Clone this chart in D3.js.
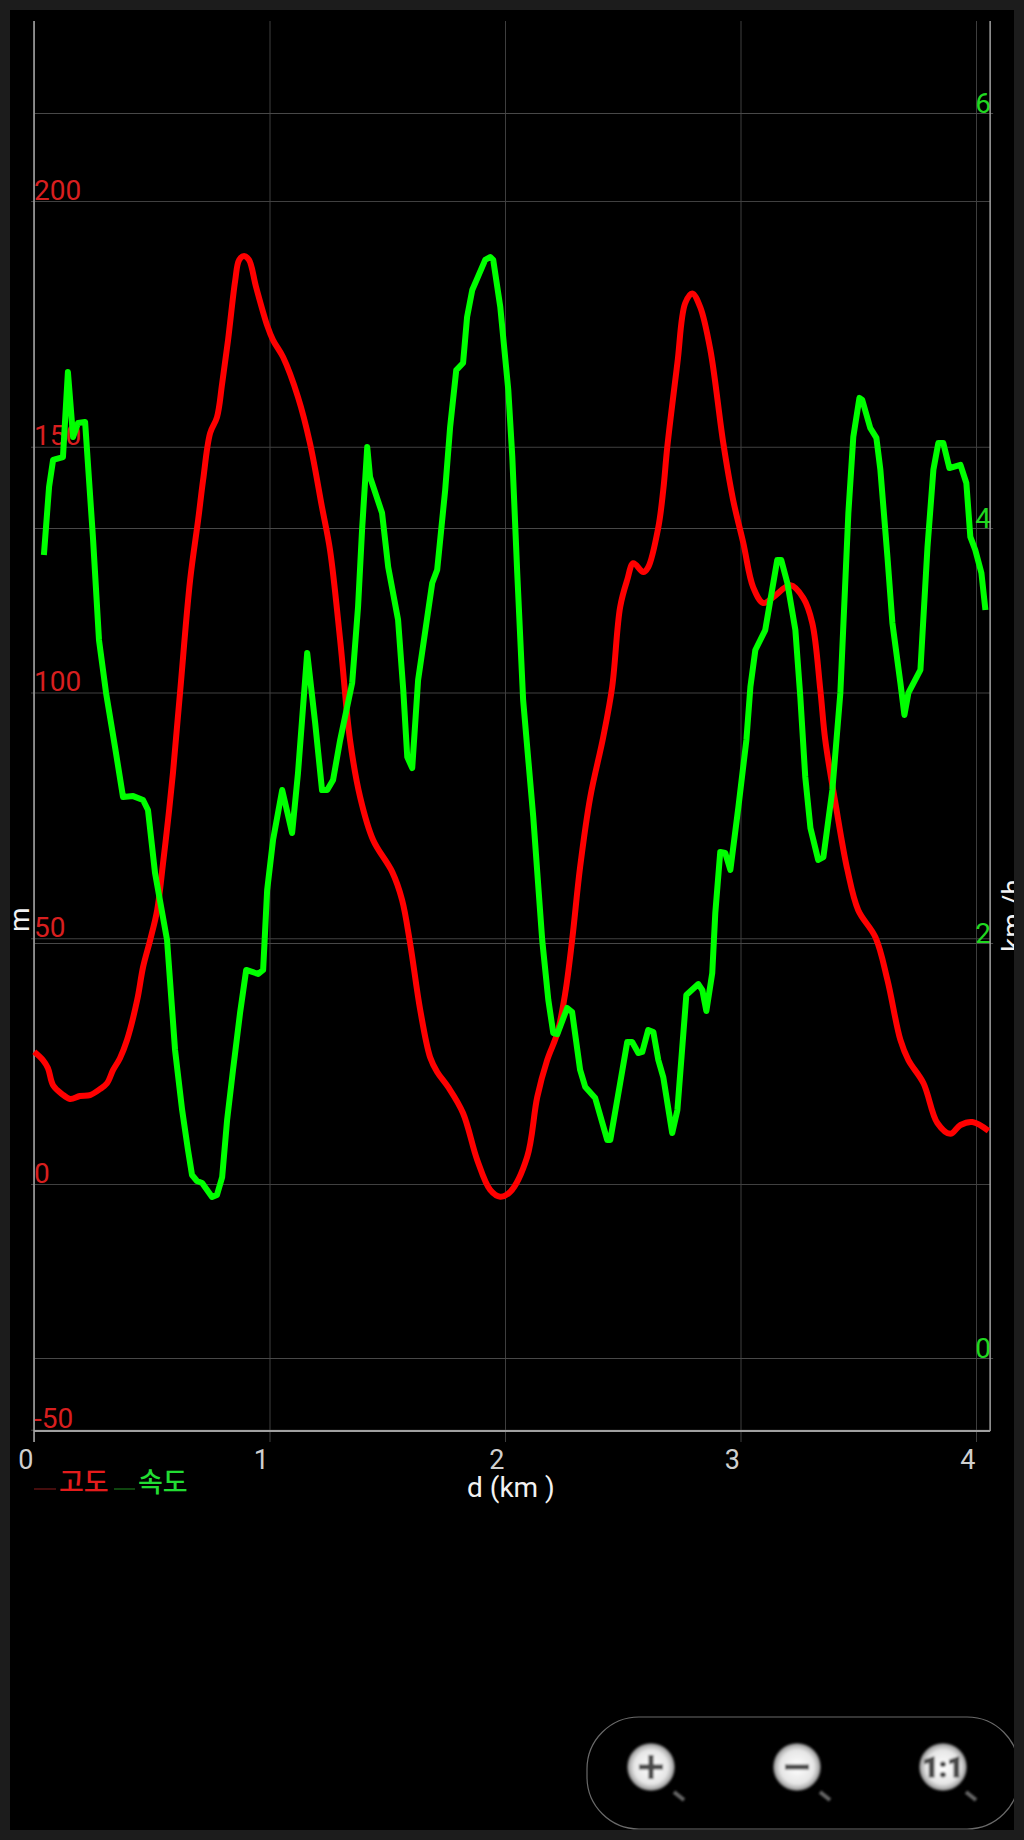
<!DOCTYPE html>
<html>
<head>
<meta charset="utf-8">
<script src="https://cdnjs.cloudflare.com/ajax/libs/d3/7.8.5/d3.min.js"></script>
<style>
html,body{margin:0;padding:0;background:#000;overflow:hidden}
svg{display:block}
text{font-family:Roboto,"Noto Sans",sans-serif}
.kr{font-family:"Noto Sans CJK KR",sans-serif;font-weight:500}
</style>
</head>
<body>
<svg id="c" width="1024" height="1840"></svg>
<script>
const elevationDistance=[.001,.038,.059,.081,.119,.153,.195,.238,.280,.310,.336,.365,.395,.438,.463,.493,.523,.548,.569,.590,.620,.663,.697,.718,.748,.777,.799,.824,.854,.871,.892,.913,.943,.990,1.015,1.058,1.121,1.172,1.223,1.257,1.300,1.342,1.385,1.440,1.521,1.563,1.597,1.640,1.682,1.712,1.759,1.822,1.882,1.937,1.980,2.022,2.094,2.137,2.179,2.222,2.256,2.285,2.319,2.362,2.417,2.455,2.489,2.519,2.545,2.587,2.608,2.651,2.672,2.689,2.732,2.765,2.795,2.829,2.872,2.927,2.969,3.012,3.054,3.097,3.139,3.212,3.267,3.305,3.339,3.360,3.403,3.454,3.500,3.573,3.624,3.679,3.713,3.777,3.836,3.891,3.934,3.985,4.053];
const elevation=[26.9,25.2,23.6,20.1,18.3,17.3,17.9,18.1,19.3,20.5,23.2,25.6,29.3,37.4,44.1,49.6,55.7,65.3,74.0,83.6,99.9,122.9,135.1,143.2,152.8,156.0,162.9,171.7,183.7,188.0,188.8,188.0,182.5,174.7,171.7,168.2,160.1,150.7,137.7,129.0,110.7,90.3,78.7,70.0,63.5,57.8,49.0,35.4,25.8,22.8,19.7,14.4,4.9,-1.2,-2.6,-1.6,5.5,17.7,25.2,30.7,38.9,49.6,64.5,78.7,90.9,101.1,117.4,122.9,126.3,124.5,125.5,133.6,141.2,149.9,167.0,179.2,181.2,178.4,169.7,150.7,139.1,130.4,121.4,118.2,119.4,121.8,119.2,114.1,100.5,90.3,77.5,63.9,55.7,50.2,41.5,29.3,25.2,20.5,12.4,10.2,12.0,12.6,10.8];
const speedDistance=[.042,.064,.081,.123,.144,.166,.187,.217,.251,.276,.306,.344,.378,.421,.463,.484,.514,.565,.599,.629,.654,.671,.692,.714,.756,.777,.799,.820,.845,.875,.901,.952,.973,.990,1.015,1.054,1.096,1.121,1.160,1.194,1.223,1.245,1.270,1.300,1.351,1.376,1.393,1.415,1.427,1.478,1.504,1.546,1.568,1.585,1.606,1.631,1.691,1.712,1.746,1.767,1.793,1.822,1.839,1.861,1.916,1.937,1.950,1.980,2.014,2.031,2.052,2.077,2.120,2.158,2.184,2.205,2.222,2.264,2.285,2.319,2.341,2.383,2.434,2.447,2.489,2.519,2.540,2.566,2.583,2.608,2.630,2.651,2.672,2.710,2.732,2.770,2.821,2.838,2.855,2.880,2.893,2.914,2.935,2.957,2.991,3.025,3.042,3.063,3.105,3.156,3.173,3.199,3.233,3.254,3.275,3.297,3.330,3.352,3.390,3.424,3.458,3.479,3.505,3.517,3.551,3.577,3.594,3.624,3.645,3.679,3.696,3.713,3.764,3.794,3.819,3.840,3.861,3.887,3.934,3.959,3.976,3.997,4.023,4.040];
const speed=[3.870,4.198,4.328,4.342,4.752,4.439,4.506,4.511,3.942,3.460,3.205,2.945,2.704,2.708,2.689,2.641,2.337,2.014,1.484,1.195,1.002,.882,.853,.843,.776,.786,.872,1.147,1.388,1.663,1.870,1.851,1.870,2.255,2.496,2.737,2.530,2.819,3.398,3.060,2.737,2.737,2.786,2.978,3.253,3.619,3.990,4.390,4.246,4.072,3.812,3.557,3.219,2.896,2.843,3.267,3.735,3.798,4.183,4.487,4.761,4.795,5.017,5.147,5.292,5.306,5.292,5.065,4.665,4.342,3.783,3.171,2.607,2.014,1.725,1.566,1.561,1.687,1.667,1.388,1.306,1.253,1.051,1.051,1.325,1.523,1.523,1.470,1.475,1.581,1.571,1.436,1.354,1.084,1.195,1.749,1.802,1.773,1.672,1.855,2.145,2.439,2.434,2.352,2.655,2.978,3.234,3.412,3.508,3.846,3.846,3.735,3.508,3.186,2.800,2.554,2.400,2.414,2.737,3.205,4.072,4.439,4.627,4.617,4.482,4.434,4.280,3.860,3.542,3.253,3.099,3.205,3.316,3.908,4.280,4.410,4.410,4.289,4.304,4.217,3.957,3.894,3.783,3.605];
const distanceTicks=[0,1,2,3,4];
const elevationTicks=[-50,0,50,100,150,200];
const speedTicks=[0,2,4,6];
const xMax=4.06;
const xLabel="d (km )", leftLabel="m", rightLabel="km /h";
const legendNames=["고도","속도"];

const svg=d3.select("#c");
const x=d3.scaleLinear().domain([0,4]).range([34,976]);
const yL=d3.scaleLinear().domain([0,200]).range([1184,201]);
const yR=d3.scaleLinear().domain([0,6]).range([1358,113]);
const plotTop=21,plotBottom=1431,plotLeft=x(0),plotRight=x(xMax);
const plainInt=d=>String(d);

const clean=g=>g.select(".domain").remove();
const gx=svg.append("g").attr("transform",`translate(0,${plotBottom})`)
 .call(d3.axisBottom(x).tickValues(distanceTicks).tickFormat(plainInt).tickSize(0)).call(clean);
gx.selectAll(".tick line").attr("y1",plotTop-plotBottom).attr("y2",11).attr("stroke","#3e3e3e").attr("stroke-width",1);
gx.selectAll(".tick text").attr("y",38).attr("dy",0).attr("x",-1).attr("text-anchor","end")
 .attr("font-size",27).attr("fill","#cfcfcf").style("font-family","Roboto");

const gl=svg.append("g").attr("transform",`translate(${plotLeft},0)`)
 .call(d3.axisLeft(yL).tickValues(elevationTicks).tickFormat(plainInt).tickSize(0)).call(clean);
gl.selectAll(".tick line").attr("x1",-3).attr("x2",plotRight-plotLeft).attr("stroke","#404040").attr("stroke-width",1);
gl.selectAll(".tick text").attr("x",0).attr("y",-2).attr("dy",0).attr("text-anchor","start")
 .attr("font-size",28).attr("fill","#d81f1f").style("font-family","Roboto");

const gr=svg.append("g").attr("transform",`translate(${plotRight},0)`)
 .call(d3.axisRight(yR).tickValues(speedTicks).tickFormat(plainInt).tickSize(0)).call(clean);
gr.selectAll(".tick line").attr("x1",plotLeft-plotRight).attr("x2",3).attr("stroke","#484848").attr("stroke-width",1);
gr.selectAll(".tick text").attr("x",-15).attr("y",-1).attr("dy",0).attr("text-anchor","start")
 .attr("font-size",28).attr("fill","#20d820").style("font-family","Roboto");

svg.append("line").attr("x1",plotLeft).attr("x2",plotLeft).attr("y1",plotTop).attr("y2",1442).attr("stroke","#a8a8a8").attr("stroke-width",1.5);
svg.append("line").attr("x1",plotRight).attr("x2",plotRight).attr("y1",plotTop).attr("y2",plotBottom).attr("stroke","#a0a0a0").attr("stroke-width",1.5);
svg.append("line").attr("x1",plotLeft).attr("x2",plotRight).attr("y1",plotBottom).attr("y2",plotBottom).attr("stroke","#a0a0a0").attr("stroke-width",2);

const drawLine=(xs,ys,yScale,color,curve)=>svg.append("path")
 .datum(xs.map((d,i)=>[d,ys[i]]))
 .attr("fill","none").attr("stroke",color).attr("stroke-width",6).attr("stroke-linejoin","round")
 .attr("d",d3.line().curve(curve).x(d=>x(d[0])).y(d=>yScale(d[1])));
drawLine(elevationDistance,elevation,yL,"#ff0000",d3.curveCatmullRom.alpha(0.5));
drawLine(speedDistance,speed,yR,"#00ff00",d3.curveLinear);

svg.append("text").attr("x",511).attr("y",1497).attr("text-anchor","middle").attr("font-size",28).attr("fill","#f2f2f2").text(xLabel);
svg.append("text").attr("transform","translate(29,932) rotate(-90)").attr("font-size",28).attr("fill","#f2f2f2").text(leftLabel);
svg.append("text").attr("transform","translate(1022,952) rotate(-90)").attr("font-size",28).attr("fill","#f2f2f2").text(rightLabel);

svg.append("line").attr("x1",34).attr("x2",56).attr("y1",1489).attr("y2",1489).attr("stroke","#5c1212").attr("stroke-width",1.5);
svg.append("text").attr("class","kr").attr("x",59).attr("y",1492).attr("font-size",27).attr("fill","#e51c1c").text(legendNames[0]);
svg.append("line").attr("x1",114).attr("x2",135).attr("y1",1489).attr("y2",1489).attr("stroke","#145c14").attr("stroke-width",1.5);
svg.append("text").attr("class","kr").attr("x",138).attr("y",1492).attr("font-size",27).attr("fill","#22dd33").text(legendNames[1]);

// zoom control panel
const defs=svg.append("defs");
const grad=defs.append("radialGradient").attr("id","knob");
grad.append("stop").attr("offset","0%").attr("stop-color","#ffffff");
grad.append("stop").attr("offset","70%").attr("stop-color","#e6e6e6");
grad.append("stop").attr("offset","90%").attr("stop-color","#b0b0b0");
grad.append("stop").attr("offset","100%").attr("stop-color","#555555");
defs.append("filter").attr("id","soft").append("feGaussianBlur").attr("stdDeviation",1);
svg.append("rect").attr("x",587).attr("y",1717).attr("width",432).attr("height",112).attr("rx",52).attr("fill","none").attr("stroke","#6a6a6a").attr("stroke-width",1.2);
const knobs=svg.append("g").attr("filter","url(#soft)");
[651,797,943].forEach((cx,i)=>{
 knobs.append("line").attr("x1",cx+23).attr("y1",1792).attr("x2",cx+33).attr("y2",1800).attr("stroke","#666").attr("stroke-width",4);
 knobs.append("circle").attr("cx",cx).attr("cy",1767).attr("r",24).attr("fill","url(#knob)");
 if(i<2) knobs.append("rect").attr("x",cx-12).attr("y",1764.5).attr("width",24).attr("height",5).attr("fill","#484848");
 if(i==0) knobs.append("rect").attr("x",cx-2.5).attr("y",1755).attr("width",5).attr("height",24).attr("fill","#484848");
 if(i==2) knobs.append("text").attr("x",cx).attr("y",1777).attr("text-anchor","middle").attr("font-size",28).attr("font-weight",900).attr("stroke","#484848").attr("stroke-width",1).attr("fill","#484848").text("1:1");
});

// device frame
const frame="#1c1c1c";
[[0,0,1024,10],[0,1830,1024,10],[0,0,10,1840],[1014,0,10,1840]].forEach(r=>
 svg.append("rect").attr("x",r[0]).attr("y",r[1]).attr("width",r[2]).attr("height",r[3]).attr("fill",frame));
</script>
</body>
</html>
